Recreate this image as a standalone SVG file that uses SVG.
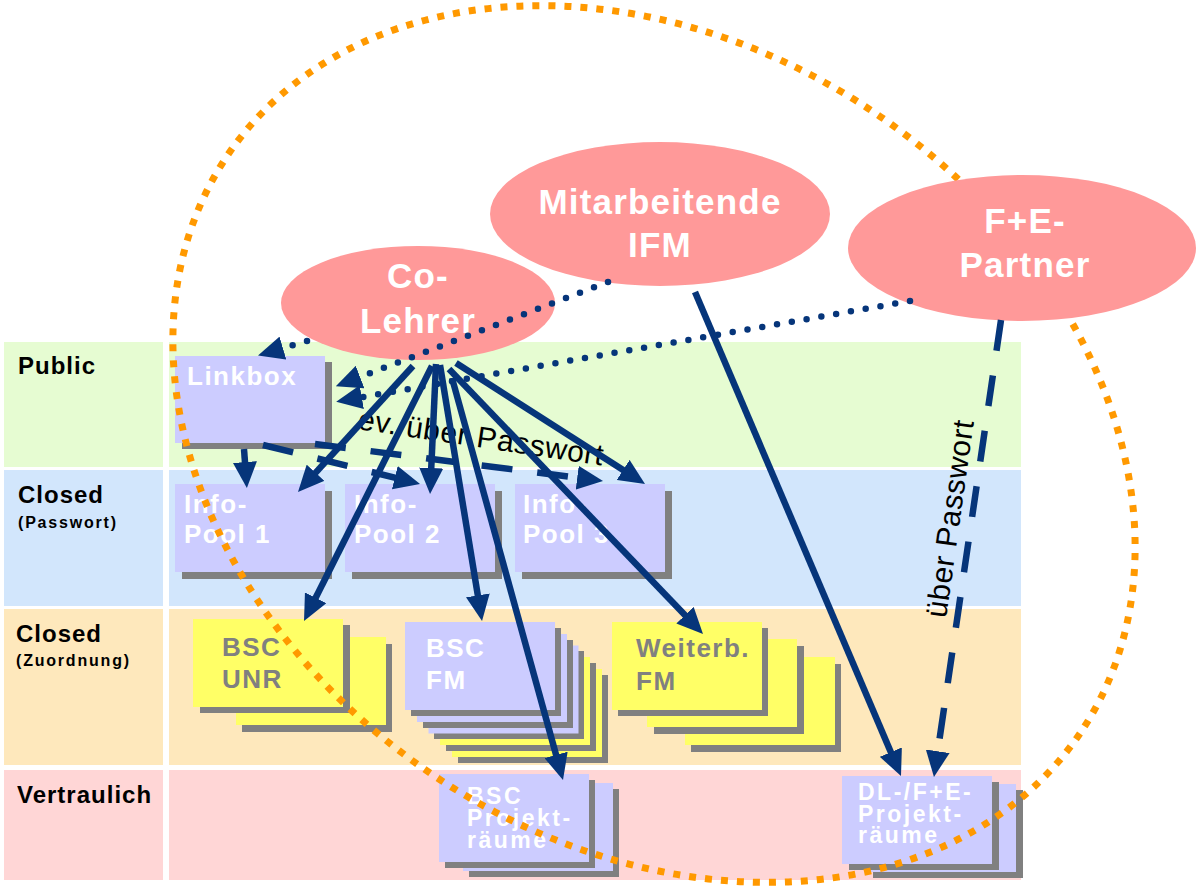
<svg xmlns="http://www.w3.org/2000/svg" width="1197" height="886" viewBox="0 0 1197 886">
<style>
text{font-family:"Liberation Sans",Arial,sans-serif}
.lbl{font-size:24px;font-weight:bold;letter-spacing:1px;fill:#000}
.sub{font-size:16px;font-weight:bold;letter-spacing:1.8px;fill:#000}
.pub{fill:#E6FCD2}.pas{fill:#D2E6FC}.zuo{fill:#FEE8BC}.ver{fill:#FFD6D6}
.sh{fill:#808080}.pu{fill:#CCCCFF}.ye{fill:#FFFF66}
.nt{font-size:26px;font-weight:bold;letter-spacing:1.5px;fill:#fff}
.ng{font-size:26px;font-weight:bold;letter-spacing:1.5px;fill:#808080}
.ns{font-size:23px;font-weight:bold;letter-spacing:2.5px;fill:#fff}
.el{fill:#FF9999}
.et{font-size:35px;font-weight:bold;letter-spacing:1.2px;fill:#fff;text-anchor:middle}
.lt{font-size:30px;letter-spacing:0.6px;fill:#000}
.solid{fill:none;stroke:#06357A;stroke-width:6.5;marker-end:url(#ah)}
.dash{fill:none;stroke:#06357A;stroke-width:6.5;stroke-dasharray:31 25;marker-end:url(#ah)}
.dot{fill:none;stroke:#06357A;stroke-width:6.5;stroke-dasharray:0 15;stroke-linecap:round;marker-end:url(#ah)}
</style>
<defs>
<marker id="ah" markerUnits="userSpaceOnUse" markerWidth="26" markerHeight="24" viewBox="0 0 26 24" refX="14" refY="12" orient="auto">
<path d="M0,0 L26,12 L0,24 z" fill="#06357A"/>
</marker>
</defs>
<rect width="1197" height="886" fill="#fff"/>
<g id="lanes">
<rect class="pub" x="4" y="342" width="159" height="125"/>
<rect class="pub" x="169" y="342" width="852" height="125"/>
<rect class="pas" x="4" y="470" width="159" height="136"/>
<rect class="pas" x="169" y="470" width="852" height="136"/>
<rect class="zuo" x="4" y="609" width="159" height="156"/>
<rect class="zuo" x="169" y="609" width="852" height="156"/>
<rect class="ver" x="4" y="770" width="159" height="110"/>
<rect class="ver" x="169" y="770" width="852" height="110"/>
<text class="lbl" x="18" y="374">Public</text>
<text class="lbl" x="18" y="503">Closed</text>
<text class="sub" x="18" y="528">(Passwort)</text>
<text class="lbl" x="16" y="642">Closed</text>
<text class="sub" x="16" y="666">(Zuordnung)</text>
<text class="lbl" x="17" y="803">Vertraulich</text>
</g>
<g id="node-linkbox">
<rect class="sh" x="182" y="362" width="150" height="87"/>
<rect class="pu" x="175" y="356" width="150" height="87"/>
<text class="nt" x="187" y="385">Linkbox</text>
</g>
<g id="node-infopool1">
<rect class="sh" x="182" y="491" width="150" height="88"/>
<rect class="pu" x="175" y="484" width="150" height="88"/>
<text class="nt" x="184" y="513">Info-</text>
<text class="nt" x="184" y="543">Pool 1</text>
</g>
<g id="node-infopool2">
<rect class="sh" x="352" y="491" width="150" height="88"/>
<rect class="pu" x="345" y="484" width="150" height="88"/>
<text class="nt" x="354" y="513">Info-</text>
<text class="nt" x="354" y="543">Pool 2</text>
</g>
<g id="node-infopool3">
<rect class="sh" x="522" y="491" width="150" height="88"/>
<rect class="pu" x="515" y="484" width="150" height="88"/>
<text class="nt" x="523" y="513">Info-</text>
<text class="nt" x="523" y="543">Pool 3</text>
</g>
<g id="node-bsc-unr">
<rect class="sh" x="242" y="644" width="150" height="88"/>
<rect class="ye" x="236" y="637" width="150" height="88"/>
<rect class="sh" x="200" y="625" width="150" height="88"/>
<rect class="ye" x="193" y="619" width="150" height="88"/>
<text class="ng" x="222" y="656">BSC</text>
<text class="ng" x="222" y="688">UNR</text>
</g>
<g id="node-bsc-fm">
<rect class="sh" x="458" y="675" width="150" height="88"/>
<rect class="ye" x="452" y="669" width="150" height="88"/>
<rect class="sh" x="446" y="663" width="150" height="88"/>
<rect class="ye" x="440" y="657" width="150" height="88"/>
<rect class="sh" x="434" y="651" width="150" height="88"/>
<rect class="pu" x="428.5" y="645.5" width="150" height="88"/>
<rect class="sh" x="423" y="640" width="150" height="88"/>
<rect class="pu" x="417" y="634" width="150" height="88"/>
<rect class="sh" x="411" y="628" width="150" height="88"/>
<rect class="pu" x="405" y="622" width="150" height="88"/>
<text class="nt" x="426" y="657">BSC</text>
<text class="nt" x="426" y="689">FM</text>
</g>
<g id="node-weiterb-fm">
<rect class="sh" x="691" y="664" width="150" height="88"/>
<rect class="ye" x="685" y="657" width="150" height="88"/>
<rect class="sh" x="654" y="646" width="150" height="88"/>
<rect class="ye" x="647" y="639" width="150" height="88"/>
<rect class="sh" x="618" y="628" width="150" height="88"/>
<rect class="ye" x="612" y="622" width="150" height="88"/>
<text class="ng" x="636" y="657">Weiterb.</text>
<text class="ng" x="636" y="690">FM</text>
</g>
<g id="node-bsc-projektraeume">
<rect class="sh" x="469" y="789" width="150" height="88"/>
<rect class="pu" x="463" y="783" width="150" height="88"/>
<rect class="sh" x="445" y="780" width="150" height="88"/>
<rect class="pu" x="439" y="774" width="150" height="88"/>
<text class="ns" x="467" y="804">BSC</text>
<text class="ns" x="467" y="826">Projekt-</text>
<text class="ns" x="467" y="848">räume</text>
</g>
<g id="node-dl-projektraeume">
<rect class="sh" x="873" y="790" width="150" height="88"/>
<rect class="pu" x="866" y="784" width="150" height="88"/>
<rect class="sh" x="849" y="782" width="150" height="88"/>
<rect class="pu" x="842" y="776" width="150" height="88"/>
<text class="ns" x="858" y="800">DL-/F+E-</text>
<text class="ns" x="858" y="822">Projekt-</text>
<text class="ns" x="858" y="843">räume</text>
</g>
<g id="boundary">
<ellipse cx="654" cy="444" rx="515" ry="398" transform="rotate(34.2 654 444)" fill="none" stroke="#FF9900" stroke-width="7" stroke-dasharray="7 9"/>
</g>
<g id="node-co-lehrer">
<ellipse class="el" cx="418" cy="303" rx="137" ry="57"/>
<text class="et" x="418" y="288">Co-</text>
<text class="et" x="418" y="333">Lehrer</text>
</g>
<g id="node-mitarbeitende-ifm">
<ellipse class="el" cx="660" cy="214" rx="170" ry="72"/>
<text class="et" x="660" y="214">Mitarbeitende</text>
<text class="et" x="660" y="257">IFM</text>
</g>
<g id="node-fe-partner">
<ellipse class="el" cx="1022" cy="248" rx="174" ry="73"/>
<text class="et" x="1025" y="233">F+E-</text>
<text class="et" x="1025" y="277">Partner</text>
</g>
<g id="labels">
<text class="lt" transform="translate(357 429) rotate(8.5)">ev. über Passwort</text>
<text class="lt" text-anchor="middle" transform="translate(960 520) rotate(-82)">über Passwort</text>
</g>
<g id="connectors">
<path class="dot" d="M307,341 L269.5,352.1"/>
<path class="dot" d="M608,282 L347,382"/>
<path class="dot" d="M910,301 L348,399.6"/>
<path class="dash" d="M244,449 L246,476"/>
<path class="dash" d="M263,445 L408.4,481.1"/>
<path class="dash" d="M315,444 L591.1,479.5"/>
<path class="solid" d="M413,366 L306.1,483.1"/>
<path class="solid" d="M432,366 L309.4,610.3"/>
<path class="solid" d="M436,364 L430.6,482"/>
<path class="solid" d="M440,365 L480.1,609.2"/>
<path class="solid" d="M452,378 L559.8,768.4"/>
<path class="solid" d="M449,369 L694.7,625.3"/>
<path class="solid" d="M456,363 L634.9,477.5"/>
<path class="solid" d="M695,292 L896.3,765"/>
<path class="dash" d="M1001,320 L935.7,765.1"/>
</g>
</svg>
